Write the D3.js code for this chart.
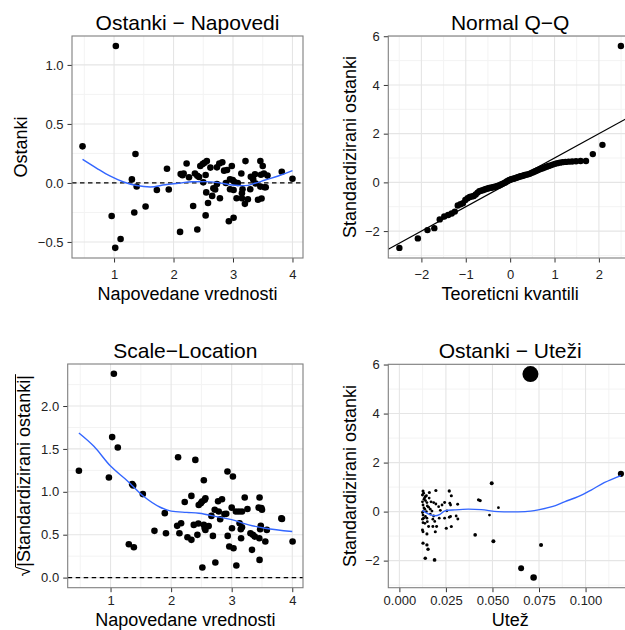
<!DOCTYPE html>
<html>
<head>
<meta charset="utf-8">
<title>Diagnostika modela</title>
<style>
  body { margin: 0; background: #fff; }
  text { font-family: "Liberation Sans", Arial, Helvetica, sans-serif; }
</style>
</head>
<body>
<script src="https://cdn.jsdelivr.net/npm/d3@7/dist/d3.min.js"></script>
<script>
// ---- Ostanki - Napovedi ----
var fitted = [0.47,0.96,1.02,1.03,1.11,1.30,1.34,1.36,1.38,1.53,
  1.72,1.89,1.92,2.11,2.12,2.15,2.17,2.22,2.26,2.33,
  2.36,2.40,2.40,2.43,2.45,2.49,2.52,2.56,2.54,2.55,
  2.58,2.54,2.65,2.70,2.73,2.77,2.82,2.78,2.85,2.90,
  2.98,2.93,3.01,2.95,2.995,3.02,2.95,3.01,3.14,3.06,
  3.15,3.16,3.15,3.20,3.21,3.25,3.30,3.33,3.34,3.29,
  3.37,3.46,3.50,3.47,3.46,3.53,3.42,3.48,3.58,3.82,
  4.00,3.55,3.52,2.50,2.73,2.67,2.88,3.08,3.38,2.62];
var resid = [0.31,-0.28,-0.55,1.16,-0.475,0.03,-0.25,0.245,-0.03,-0.20,
  -0.06,0.12,-0.055,-0.415,0.075,0.065,0.08,0.165,0.048,-0.195,
  0.08,-0.395,0.06,0.05,0.143,0.16,0.17,0.185,0.067,-0.08,
  -0.17,-0.275,-0.11,-0.055,0.132,0.165,0.175,-0.13,0.104,0.11,
  0.143,-0.325,-0.295,0.03,0.025,0.01,-0.053,-0.06,0.08,-0.13,
  -0.13,-0.053,-0.087,-0.177,0.185,-0.138,0.053,0.048,0.03,-0.053,
  0.073,0.185,0.143,0.07,-0.031,-0.037,-0.143,-0.132,0.062,0.095,
  0.036,-0.037,0.08,0.005,-0.01,-0.045,0.0,0.0,-0.005,0.13];
var residSmoothX = [0.47,0.71,0.93,1.16,1.38,1.61,1.86,2.08,2.31,2.53,2.75,2.98,3.2,3.37,3.54,3.76,4.0];
var residSmoothY = [0.2,0.124,0.059,0.008,-0.022,-0.034,-0.015,-0.003,0.01,0.011,0.003,-0.017,-0.023,-0.003,0.025,0.059,0.104];

// ---- Normal Q-Q ----
var qqTheo = [-2.496,-2.080,-1.863,-1.709,-1.587,-1.485,-1.397,-1.318,-1.247,-1.181,
  -1.120,-1.064,-1.010,-0.959,-0.911,-0.865,-0.820,-0.776,-0.734,-0.694,
  -0.655,-0.616,-0.579,-0.542,-0.506,-0.471,-0.437,-0.402,-0.369,-0.335,
  -0.302,-0.270,-0.237,-0.205,-0.173,-0.141,-0.110,-0.078,-0.047,-0.016,
  0.016,0.047,0.078,0.110,0.141,0.173,0.205,0.237,0.270,0.302,
  0.335,0.369,0.402,0.437,0.471,0.506,0.542,0.579,0.616,0.655,
  0.694,0.734,0.776,0.820,0.865,0.911,0.959,1.010,1.064,1.120,
  1.181,1.247,1.318,1.397,1.485,1.587,1.709,1.863,2.080,2.496];
var qqSample = [-2.69,-2.30,-1.96,-1.88,-1.52,-1.40,-1.34,-1.28,-1.20,-0.95,
  -0.90,-0.86,-0.72,-0.65,-0.60,-0.58,-0.56,-0.50,-0.42,-0.36,
  -0.34,-0.32,-0.29,-0.27,-0.25,-0.23,-0.22,-0.21,-0.19,-0.18,
  -0.16,-0.14,-0.12,-0.09,-0.06,-0.03,0.00,0.04,0.07,0.10,
  0.12,0.14,0.15,0.17,0.19,0.21,0.23,0.25,0.26,0.28,
  0.30,0.32,0.33,0.35,0.38,0.41,0.44,0.47,0.50,0.53,
  0.56,0.58,0.61,0.64,0.67,0.70,0.73,0.76,0.79,0.81,
  0.83,0.84,0.85,0.86,0.87,0.875,0.88,1.16,1.54,5.60];
var qqIntercept = 0, qqSlope = 1;

// ---- Scale-Location ----
var slFitted = [0.478,0.973,1.027,1.055,1.12,1.302,1.357,1.374,1.385,1.533,
  1.725,1.896,1.915,2.10,2.115,2.137,2.165,2.225,2.27,2.335,
  2.335,2.374,2.40,2.434,2.456,2.49,2.51,2.516,2.54,2.54,
  2.555,2.566,2.555,2.566,2.665,2.69,2.72,2.73,2.775,2.786,
  2.81,2.84,2.91,2.93,2.934,2.96,3.0,3.005,3.02,3.03,
  3.07,3.077,3.13,3.15,3.155,3.17,3.17,3.215,3.26,3.31,
  3.335,3.38,3.445,3.456,3.46,3.46,3.47,3.48,3.49,3.5,
  3.555,3.58,3.82,3.83,4.005,2.62,2.88,3.12,3.35,2.45];
var slRoot = [1.245,1.167,1.638,2.377,1.517,0.389,1.089,1.074,0.354,0.973,
  0.545,0.751,0.517,0.603,1.403,0.517,0.634,0.882,0.471,0.952,
  0.44,0.614,1.372,0.498,0.847,0.867,0.886,0.117,1.135,0.614,
  0.906,0.925,0.575,0.556,0.719,0.486,0.79,0.175,0.89,0.77,
  0.68,0.913,0.743,1.236,0.486,0.362,0.816,0.575,1.178,0.342,
  0.77,0.14,0.634,0.564,0.459,0.587,0.77,0.933,0.80,0.517,
  0.323,0.478,0.816,0.459,0.933,0.206,0.564,0.603,0.81,0.79,
  0.42,0.556,0.69,0.684,0.42,0.60,0.74,0.77,0.50,0.63];
var slSmoothX = [0.478,0.725,1.0,1.275,1.55,1.82,2.0,2.26,2.46,2.79,3.0,3.28,3.55,4.0];
var slSmoothY = [1.685,1.53,1.30,1.13,0.945,0.82,0.775,0.76,0.75,0.705,0.675,0.615,0.575,0.537];

// ---- Ostanki - Utezi ----
var weight = [0.0127,0.0130,0.0139,0.0132,0.0148,0.0127,0.0161,0.0196,0.0157,0.0166,
  0.0184,0.0196,0.0211,0.0229,0.0243,0.0268,0.0279,0.0271,0.0275,0.0313,
  0.0255,0.0127,0.0127,0.0130,0.0148,0.0166,0.0184,0.0180,0.0214,0.0243,
  0.0268,0.0275,0.0305,0.0314,0.0127,0.0157,0.0180,0.0252,0.0279,0.0200,
  0.0193,0.0127,0.0148,0.0127,0.0148,0.0154,0.0139,0.0189,0.0407,0.0425,
  0.0434,0.0484,0.0496,0.0505,0.0532,0.0654,0.0704,0.0721,0.0761,0.1190,
  0.0124,0.0135,0.0140,0.0124,0.0150,0.0137,0.0145,0.0124,0.0140,0.0124,
  0.0150,0.0137,0.0124,0.0170,0.0175,0.0190,0.0220,0.0160,0.0145,0.0132];
var stdResid = [0.84,0.75,0.61,0.50,0.37,0.27,0.78,0.86,0.18,0.10,
  0.37,0.31,0.20,0.27,0.37,0.84,0.65,0.34,0.27,0.30,
  0.03,0.00,-0.14,-0.27,-0.27,-0.10,-0.18,-0.31,-0.27,-0.27,
  -0.23,-0.20,-0.18,-0.30,-0.45,-0.61,-0.61,-0.68,-0.61,-0.61,
  -0.82,-0.82,-0.91,-1.29,-1.36,-1.54,-1.90,-1.97,-0.95,0.48,
  0.45,-0.14,1.16,-1.21,0.16,-2.31,5.61,-2.69,-1.36,1.54,
  0.68,0.55,0.45,0.40,0.23,0.10,0.00,-0.04,-0.20,-0.31,
  -0.41,-0.48,-0.75,0.40,0.02,-0.40,0.05,0.55,0.65,0.15];
var cook = [0.003,0.002,0.002,0.001,0.001,0.001,0.003,0.004,0.001,0.001,
  0.001,0.001,0.001,0.001,0.002,0.005,0.003,0.001,0.001,0.002,
  0.001,0.001,0.001,0.001,0.001,0.001,0.001,0.001,0.001,0.001,
  0.001,0.001,0.001,0.002,0.001,0.002,0.002,0.003,0.003,0.002,
  0.003,0.002,0.003,0.005,0.006,0.007,0.009,0.011,0.010,0.004,
  0.004,0.001,0.016,0.017,0.001,0.083,1.19,0.113,0.018,0.093,
  0.002,0.001,0.001,0.001,0.001,0.001,0.001,0.001,0.001,0.001,
  0.001,0.001,0.002,0.001,0.001,0.001,0.001,0.001,0.002,0.001];
var wSmoothX = [0.0123,0.0155,0.0191,0.0218,0.0245,0.0298,0.037,0.044,0.053,0.060,0.0675,0.0746,0.082,0.089,0.096,0.103,0.110,0.119];
var wSmoothY = [0.05,-0.09,-0.17,-0.11,0.03,0.07,0.1,0.08,0.0,-0.01,0.0,0.07,0.2,0.41,0.61,0.88,1.18,1.47];

// ticks
var fitTicks = [1,2,3,4], fitMinor = [0.5,1.5,2.5,3.5];
var residTicks = [-0.5,0,0.5,1.0], residMinor = [-0.25,0.25,0.75];
var qqXTicks = [-2,-1,0,1,2], qqXMinor = [-2.5,-1.5,-0.5,0.5,1.5,2.5];
var stdTicks = [-2,0,2,4,6], stdMinor = [-3,-1,1,3,5];
var slTicks = [0,0.5,1.0,1.5,2.0], slMinor = [0.25,0.75,1.25,1.75,2.25];
var wTicks = [0,0.025,0.05,0.075,0.1], wMinor = [0.0125,0.0375,0.0625,0.0875,0.1125];

var width = 625, height = 630;
var svg = d3.select("body").append("svg")
    .attr("width", width)
    .attr("height", height);

var blue = "#3366FF";

function pts(xs, ys) { return xs.map(function(v, i){ return [v, ys[i]]; }); }

function panel(o) {
    var x = d3.scaleLinear().domain(o.xDom).range([o.l, o.r]);
    var y = d3.scaleLinear().domain(o.yDom).range([o.b, o.t]);
    var g = svg.append("g");

    g.append("rect").attr("x", o.l).attr("y", o.t)
        .attr("width", o.r - o.l).attr("height", o.b - o.t).attr("fill", "#fff");

    // grid
    g.selectAll(".gxm").data(o.xMinor).enter().append("line")
        .attr("x1", x).attr("x2", x).attr("y1", o.t).attr("y2", o.b)
        .attr("stroke", "#f3f3f3").attr("stroke-width", 1);
    g.selectAll(".gym").data(o.yMinor).enter().append("line")
        .attr("y1", y).attr("y2", y).attr("x1", o.l).attr("x2", o.r)
        .attr("stroke", "#f3f3f3").attr("stroke-width", 1);
    g.selectAll(".gx").data(o.xTicks).enter().append("line")
        .attr("x1", x).attr("x2", x).attr("y1", o.t).attr("y2", o.b)
        .attr("stroke", "#e5e5e5").attr("stroke-width", 1.1);
    g.selectAll(".gy").data(o.yTicks).enter().append("line")
        .attr("y1", y).attr("y2", y).attr("x1", o.l).attr("x2", o.r)
        .attr("stroke", "#e5e5e5").attr("stroke-width", 1.1);

    // axes
    var ax = g.append("g").attr("transform", "translate(0," + o.b + ")")
        .call(d3.axisBottom(x).tickValues(o.xTicks).tickFormat(o.xFmt).tickSize(4.5).tickPadding(o.xPad));
    var ay = g.append("g").attr("transform", "translate(" + o.l + ",0)")
        .call(d3.axisLeft(y).tickValues(o.yTicks).tickFormat(o.yFmt).tickSize(4.5).tickPadding(4));
    [ax, ay].forEach(function(a){
        a.select(".domain").remove();
        a.attr("font-family", null).attr("font-size", 13);
        a.selectAll("line").attr("stroke", "#333");
        a.selectAll("text").attr("fill", "#222");
    });

    // titles
    g.append("text").attr("x", (o.l + o.r) / 2).attr("y", o.t - 6)
        .attr("text-anchor", "middle").attr("font-size", 21).text(o.title);
    g.append("text").attr("x", (o.l + o.r) / 2).attr("y", o.xTitleY)
        .attr("text-anchor", "middle").attr("font-size", 18).text(o.xTitle);
    if (o.yTitle) {
        g.append("text")
            .attr("transform", "translate(" + o.yTitleX + "," + ((o.t + o.b) / 2) + ") rotate(-90)")
            .attr("text-anchor", "middle").attr("font-size", 18).text(o.yTitle);
    }

    var inner = g.append("g");
    g.append("rect").attr("x", o.l).attr("y", o.t)
        .attr("width", o.r - o.l).attr("height", o.b - o.t)
        .attr("fill", "none").attr("stroke", "#7f7f7f").attr("stroke-width", 1.1);
    return {x: x, y: y, g: inner, o: o};
}

function hline0(p) {
    p.g.append("line").attr("x1", p.o.l).attr("x2", p.o.r)
        .attr("y1", p.y(0)).attr("y2", p.y(0))
        .attr("stroke", "#000").attr("stroke-width", 1.3).attr("stroke-dasharray", "4.5,3.5");
}

function smooth(p, xs, ys) {
    var line = d3.line().x(function(d){ return p.x(d[0]); }).y(function(d){ return p.y(d[1]); })
        .curve(d3.curveMonotoneX);
    p.g.append("path").datum(pts(xs, ys)).attr("d", line)
        .attr("fill", "none").attr("stroke", blue).attr("stroke-width", 1.4);
}

function dots(p, xs, ys, r) {
    p.g.selectAll(".pt").data(pts(xs, ys)).enter().append("circle")
        .attr("cx", function(d){ return p.x(d[0]); })
        .attr("cy", function(d){ return p.y(d[1]); })
        .attr("r", r).attr("fill", "#000");
}

var f1 = d3.format(".1f"), f0 = d3.format("d"), f3 = d3.format(".3f");

// 1: Ostanki - Napovedi
var p1 = panel({l: 72, r: 303, t: 36, b: 258, xDom: [0.293, 4.177], yDom: [-0.636, 1.245],
    xTicks: fitTicks, xMinor: fitMinor, yTicks: residTicks, yMinor: residMinor,
    xFmt: f0, yFmt: f1, xPad: 7, title: "Ostanki \u2212 Napovedi", xTitle: "Napovedane vrednosti",
    xTitleY: 300, yTitle: "Ostanki", yTitleX: 27});
hline0(p1);
dots(p1, fitted, resid, 3.3);
smooth(p1, residSmoothX, residSmoothY);

// 2: Normal Q-Q
var p2 = panel({l: 388.3, r: 632, t: 36, b: 258, xDom: [-2.746, 2.746], yDom: [-3.105, 6.01],
    xTicks: qqXTicks, xMinor: qqXMinor, yTicks: stdTicks, yMinor: stdMinor,
    xFmt: f0, yFmt: f0, xPad: 7, title: "Normal Q\u2212Q", xTitle: "Teoreticni kvantili",
    xTitleY: 300, yTitle: "Standardizirani ostanki", yTitleX: 356});
p2.g.append("line")
    .attr("x1", p2.x(-2.746)).attr("y1", p2.y(qqIntercept + qqSlope * -2.746))
    .attr("x2", p2.x(2.746)).attr("y2", p2.y(qqIntercept + qqSlope * 2.746))
    .attr("stroke", "#000").attr("stroke-width", 1.2);
dots(p2, qqTheo, qqSample, 3.2);

// 3: Scale-Location
var p3 = panel({l: 67.7, r: 303, t: 364, b: 587.7, xDom: [0.293, 4.177], yDom: [-0.118, 2.49],
    xTicks: fitTicks, xMinor: fitMinor, yTicks: slTicks, yMinor: slMinor,
    xFmt: f0, yFmt: f1, xPad: 4, title: "Scale\u2212Location", xTitle: "Napovedane vrednosti",
    xTitleY: 626, yTitle: null});
hline0(p3);
dots(p3, slFitted, slRoot, 3.3);
smooth(p3, slSmoothX, slSmoothY);

// sqrt label
var lab = svg.append("g").attr("transform", "translate(30," + ((364 + 587.7) / 2) + ") rotate(-90)");
var lt = lab.append("text").attr("font-size", 18);
lt.append("tspan").text("\u221A");
lt.append("tspan").text("|Standardizirani ostanki|");
var tot = lt.node().getComputedTextLength();
var radW = lt.node().getSubStringLength(0, 1);
lt.attr("x", -tot / 2);
lab.append("line").attr("x1", -tot / 2 + radW - 0.5).attr("x2", tot / 2 + 1)
    .attr("y1", -14.5).attr("y2", -14.5).attr("stroke", "#000").attr("stroke-width", 1);

// 4: Ostanki - Utezi
var p4 = panel({l: 388.3, r: 632, t: 364.3, b: 587.7, xDom: [-0.00595, 0.12495], yDom: [-3.105, 6.01],
    xTicks: wTicks, xMinor: wMinor, yTicks: stdTicks, yMinor: stdMinor,
    xFmt: f3, yFmt: f0, xPad: 4, title: "Ostanki \u2212 Ute\u017Ei", xTitle: "Ute\u017E",
    xTitleY: 626, yTitle: "Standardizirani ostanki", yTitleX: 356});
var rScale = d3.scaleSqrt().domain([0, d3.max(cook)]).range([1.2, 8]);
p4.g.selectAll(".w").data(weight).enter().append("circle")
    .attr("cx", function(d){ return p4.x(d); })
    .attr("cy", function(d, i){ return p4.y(stdResid[i]); })
    .attr("r", function(d, i){ return rScale(cook[i]); })
    .attr("fill", "#000");
smooth(p4, wSmoothX, wSmoothY);
</script>
</body>
</html>
